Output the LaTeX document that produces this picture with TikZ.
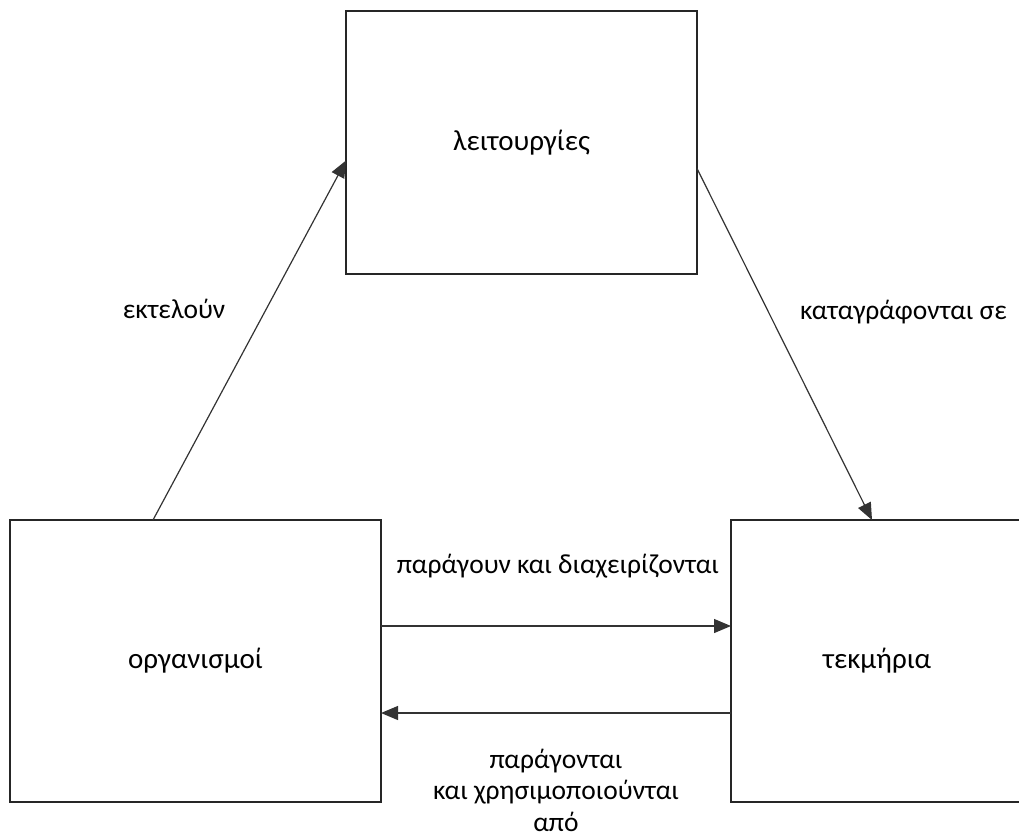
\documentclass[tikz,border=0pt]{standalone}
\usepackage{fontspec}
\setmainfont{Carlito}
\usetikzlibrary{arrows.meta}
\begin{document}
\begin{tikzpicture}[x=1pt,y=-1pt,
  box/.style={draw=black!85,line width=1.6pt,inner sep=0pt,outer sep=0pt,font=\fontsize{29}{34}\selectfont},
  conn/.style={draw=black!80,line width=1.2pt,-{Triangle[length=17pt,width=14pt]}},
  lbl/.style={font=\fontsize{27.5}{33}\selectfont,inner sep=0pt,anchor=base}]
\useasboundingbox (0,0) rectangle (1019,836);
\node[box,minimum width=351pt,minimum height=263pt] (fun) at (521.5,142.5) {λειτουργίες};
\node[box,minimum width=371pt,minimum height=282pt] (org) at (195.5,661) {οργανισμοί};
\node[box,minimum width=292pt,minimum height=282pt] (tek) at (877,661) {τεκμήρια};
\draw[conn] ([xshift=143pt]org.north west) -- ([yshift=-18pt]fun.west);
\draw[conn] ([yshift=-26pt]fun.east) -- ([xshift=141pt]tek.north west);
\draw[conn] ([yshift=35pt]org.east) -- ([yshift=35pt]tek.west);
\draw[conn] ([yshift=-52pt]tek.west) -- ([yshift=-52pt]org.east);
\node[lbl] (l1) at (174,318) {εκτελούν};
\node[lbl,anchor=base west] (l2) at (800,319) {καταγράφονται σε};
\node[lbl] (l3) at (558,573) {παράγουν και διαχειρίζονται};
\node[lbl] (l4a) at (556,768) {παράγονται};
\node[lbl] (l4b) at (556,799) {και χρησιμοποιούνται};
\node[lbl] (l4c) at (556,831) {από};
\end{tikzpicture}
\end{document}
